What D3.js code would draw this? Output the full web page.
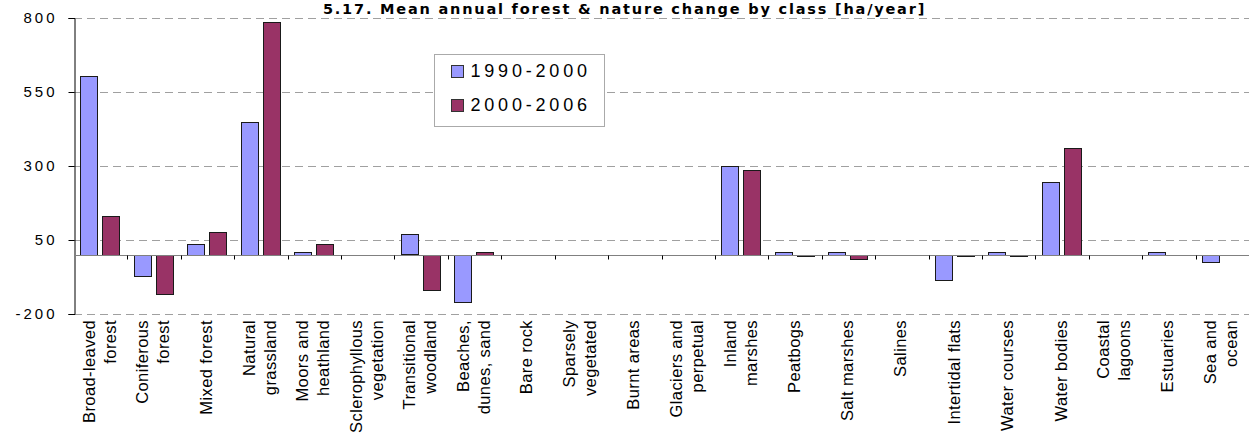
<!DOCTYPE html>
<html><head><meta charset="utf-8">
<script src="https://cdn.jsdelivr.net/npm/d3@7"></script>
<style>body{margin:0;background:#fff}svg{display:block}</style>
</head><body>
<svg id="c" width="1249" height="434"></svg>
<script>
const categories = [
  ["Broad-leaved","forest"],["Coniferous","forest"],["Mixed forest"],["Natural","grassland"],
  ["Moors and","heathland"],["Sclerophyllous","vegetation"],["Transitional","woodland"],
  ["Beaches,","dunes, sand"],["Bare rock"],["Sparsely","vegetated"],["Burnt areas"],
  ["Glaciers and","perpetual"],["Inland","marshes"],["Peatbogs"],["Salt marshes"],["Salines"],
  ["Intertidal flats"],["Water courses"],["Water bodies"],["Coastal","lagoons"],["Estuaries"],["Sea and","ocean"]
];
const series1990 = [604,-72,36,448,9,0,69,-160,0,0,0,0,300,9,9,0,-85,9,246,0,9,-25];
const series2000 = [131,-132,77,786,36,0,-119,9,0,0,0,0,286,-4,-12,0,-4,-4,361,0,0,0];
const seriesNames = ["1990-2000","2000-2006"];
const yTicks = [-200,50,300,550,800];
const title = "5.17. Mean annual forest & nature change by class [ha/year]";

(function(){
const svg = d3.select("#c");
const W = 1249, pLeft = 74, pRight = 1249, pTop = 18, pBottom = 314;
const idx = categories.map((d,i)=>i);
const x = d3.scaleBand().domain(idx).range([pLeft,pRight]).paddingInner(0).paddingOuter(0);
const y = d3.scaleLinear().domain([-200,800]).range([pBottom,pTop]);
const bw = x.bandwidth();
const inner = d3.scaleBand().domain([0,1]).range([bw*0.118,bw*0.848]).paddingInner(0.227);
const colors = ["#9999FF","#993366"];
const sans = "Liberation Sans, Arial, sans-serif";

svg.append("g").selectAll("line").data(yTicks).join("line")
  .attr("x1",pLeft).attr("x2",pRight).attr("y1",d=>Math.round(y(d))+0.5).attr("y2",d=>Math.round(y(d))+0.5)
  .attr("stroke","#a0a0a0").attr("stroke-width",1).attr("stroke-dasharray","8,5");

const yAxis = d3.axisLeft(y).tickValues(yTicks).tickSize(6).tickPadding(11).tickFormat(d=>String(d));
const gy = svg.append("g").attr("transform",`translate(${pLeft+0.5},0)`).call(yAxis);
gy.select(".domain").attr("stroke","#000");
gy.selectAll(".tick line").attr("stroke","#000");
gy.selectAll("text").attr("font-family",sans).attr("font-size",15)
  .attr("letter-spacing","3px").attr("fill","#000");

const data = [];
idx.forEach(i=>{ data.push({i,s:0,v:series1990[i]}); data.push({i,s:1,v:series2000[i]}); });
svg.append("g").selectAll("rect").data(data.filter(d=>d.v!==0)).join("rect")
  .attr("x",d=>Math.round(x(d.i)+inner(d.s))+0.5)
  .attr("width",Math.round(inner.bandwidth()))
  .attr("y",d=>Math.round(Math.min(y(d.v),y(0)))+0.5)
  .attr("height",d=>Math.max(1,Math.round(Math.abs(y(d.v)-y(0)))))
  .attr("fill",d=>colors[d.s]).attr("stroke","#1a1a1a").attr("stroke-width",1);

const gx = svg.append("g");
const y0 = Math.round(y(0))+0.5;
gx.append("line").attr("x1",pLeft).attr("x2",pRight).attr("y1",y0).attr("y2",y0)
  .attr("stroke","#808080").attr("stroke-width",1);
gx.selectAll(".tk").data(d3.range(1,categories.length)).join("line").attr("class","tk")
  .attr("x1",d=>Math.round(pLeft+d*x.step())+0.5).attr("x2",d=>Math.round(pLeft+d*x.step())+0.5)
  .attr("y1",y0).attr("y2",y0+4).attr("stroke","#000");

const lg = svg.append("g").attr("font-family",sans).attr("font-size",16.5).attr("letter-spacing","0.4px").attr("fill","#000");
categories.forEach((lines,i)=>{
  const cx = x(i)+bw/2 + 4.5;
  const n = lines.length, lh = 21;
  lines.forEach((t,k)=>{
    const off = (k-(n-1)/2)*lh;
    lg.append("text").attr("transform",`translate(${cx+off},320) rotate(-90)`)
      .attr("text-anchor","end").text(t);
  });
});

svg.append("text").attr("x",W/2).attr("y",13.5).attr("text-anchor","middle")
  .attr("font-family","DejaVu Sans, Verdana, sans-serif").attr("font-weight","bold").attr("font-size",14.5)
  .attr("letter-spacing","1.8px")
  .text(title);

const leg = svg.append("g").attr("transform","translate(434.5,54.5)");
leg.append("rect").attr("width",170).attr("height",72).attr("fill","#fff").attr("stroke","#aaa");
seriesNames.forEach((n,k)=>{
  leg.append("rect").attr("x",17).attr("y",11+k*34).attr("width",12).attr("height",12)
    .attr("fill",colors[k]).attr("stroke","#333");
  leg.append("text").attr("x",36).attr("y",22+k*34)
    .attr("font-family",sans).attr("font-size",18).attr("letter-spacing","3.8px")
    .text(n);
});
})();
</script>
</body></html>
